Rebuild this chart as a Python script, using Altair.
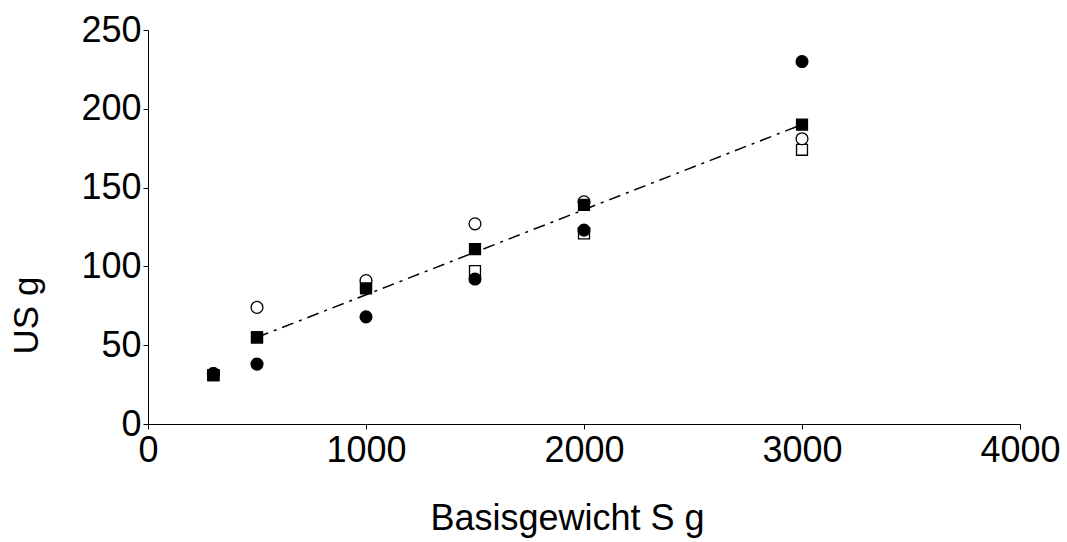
import altair as alt
import pandas as pd

# Data
x_vals = [300, 500, 1000, 1500, 2000, 3000]
filled_circle = [32, 38, 68, 92, 123, 230]
filled_square = [31, 55, 86, 111, 139, 190]
open_circle = [32, 74, 91, 127, 141, 181]
open_square = [31, 55, 88, 97, 121, 174]

fit_x = [500, 3000]
fit_y = [55, 190]

FONT = "Liberation Sans"

def df(ys):
    return pd.DataFrame({"x": x_vals, "y": ys})

xscale = alt.Scale(domain=[0, 4000], nice=False)
yscale = alt.Scale(domain=[0, 250], nice=False)

xenc = alt.X("x:Q", scale=xscale,
             axis=alt.Axis(title="Basisgewicht S g", values=[0, 1000, 2000, 3000, 4000],
                           format="d", grid=False, tickSize=5, labelPadding=4,
                           titlePadding=33, titleX=419, labelFontSize=36, titleFontSize=36,
                           labelFont=FONT, titleFont=FONT, titleFontWeight="normal",
                           labelColor="black", titleColor="black", domainColor="black",
                           tickColor="black", labelOverlap=False, labelFlush=False))
yenc = alt.Y("y:Q", scale=yscale,
             axis=alt.Axis(title="US g", values=[0, 50, 100, 150, 200, 250],
                           grid=False, tickSize=5, labelPadding=2,
                           titlePadding=36, titleY=285, labelFontSize=36, titleFontSize=35,
                           labelFont=FONT, titleFont=FONT, titleFontWeight="normal",
                           labelColor="black", titleColor="black", domainColor="black",
                           tickColor="black", labelOverlap=False, labelFlush=False))

fit_df = pd.DataFrame({"x": fit_x, "y": fit_y})
line = alt.Chart(fit_df).mark_line(color="black", strokeWidth=1.5,
                                   strokeDash=[12, 6, 3, 6]).encode(x=xenc, y=yenc)

def pts(ys, shape, filled):
    return alt.Chart(df(ys)).mark_point(
        shape=shape, size=140 if shape == "circle" else 120, filled=True,
        fill="black" if filled else "white",
        stroke="black", strokeWidth=1.3, opacity=1
    ).encode(x=alt.X("x:Q", scale=xscale), y=alt.Y("y:Q", scale=yscale))

chart = alt.layer(
    line,
    pts(open_square, "square", False),
    pts(open_circle, "circle", False),
    pts(filled_square, "square", True),
    pts(filled_circle, "circle", True),
).properties(
    width=872, height=394,
    autosize=alt.AutoSizeParams(type="none"),
    padding={"left": 148, "top": 30, "right": 47, "bottom": 118},
    background="white",
).configure_view(stroke=None)

chart.save("out.html", embed_options={"renderer": "svg", "actions": False})
